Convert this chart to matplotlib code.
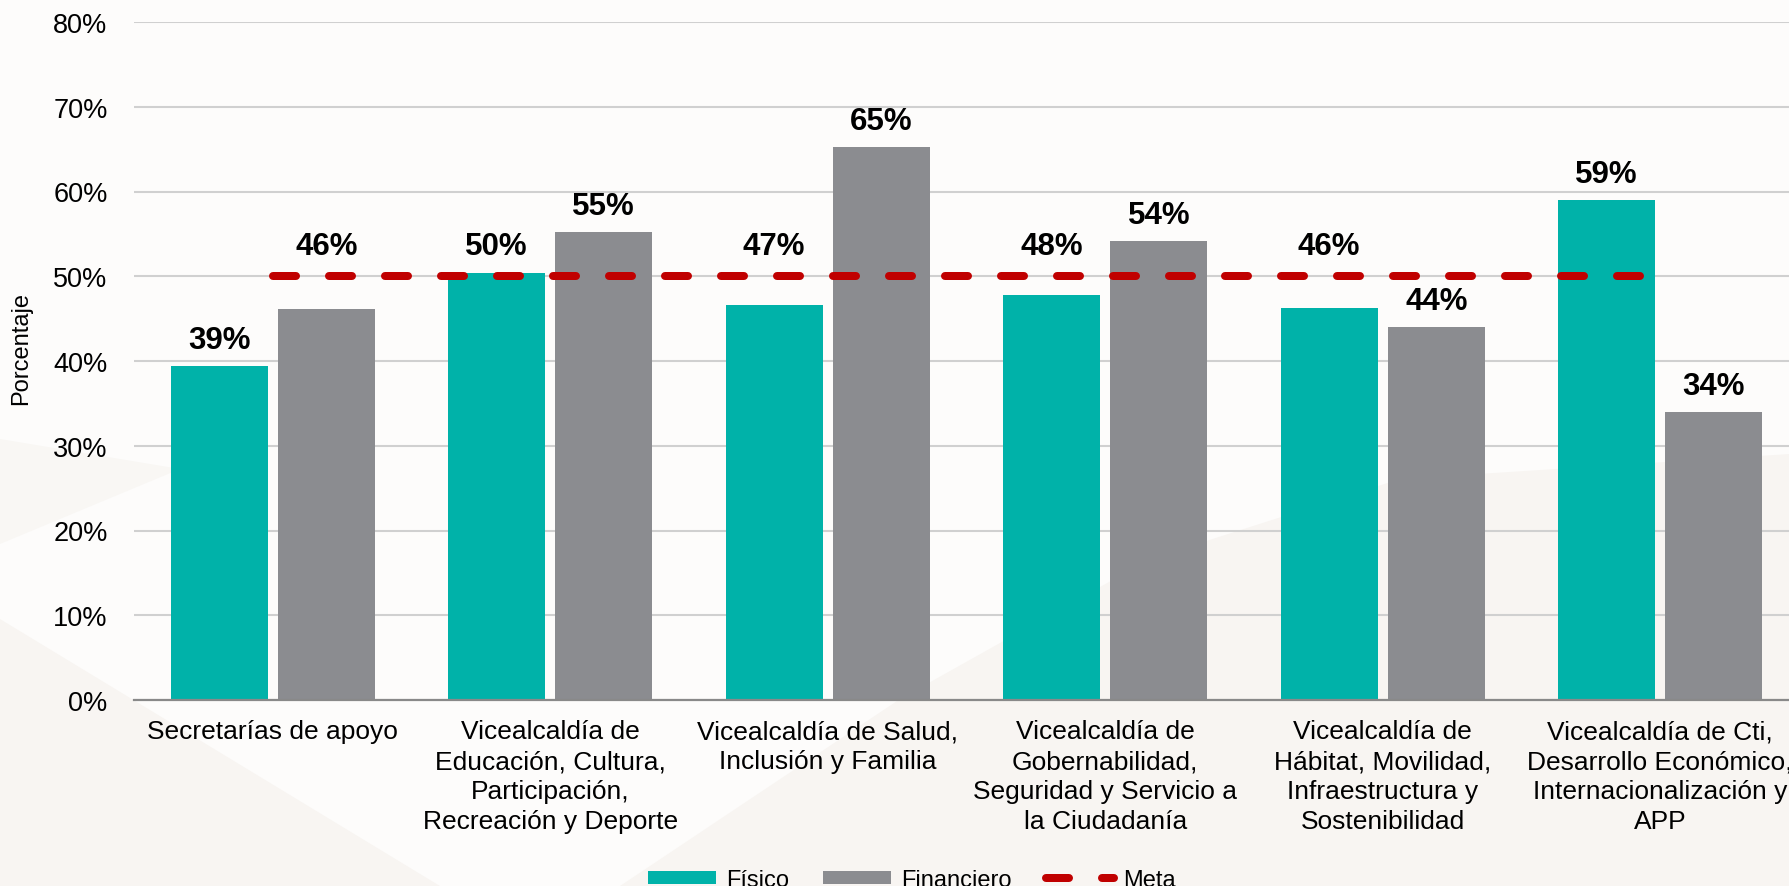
import numpy as np
import matplotlib; matplotlib.use("Agg")
import matplotlib.pyplot as plt
from matplotlib.patches import Polygon

categories = ["Secretarías de apoyo",
              "Vicealcaldía de\nEducación, Cultura,\nParticipación,\nRecreación y Deporte",
              "Vicealcaldía de Salud,\nInclusión y Familia",
              "Vicealcaldía de\nGobernabilidad,\nSeguridad y Servicio a\nla Ciudadanía",
              "Vicealcaldía de\nHábitat, Movilidad,\nInfraestructura y\nSostenibilidad",
              "Vicealcaldía de Cti,\nDesarrollo Económico,\nInternacionalización y\nAPP"]
fisico = [0.394, 0.504, 0.466, 0.478, 0.462, 0.590]
financiero = [0.461, 0.552, 0.652, 0.542, 0.440, 0.340]
meta = 0.50
yticks = [0, 0.1, 0.2, 0.3, 0.4, 0.5, 0.6, 0.7, 0.8]

TEAL = "#00B2A9"; GRAY = "#8B8C90"; RED = "#C00000"
plt.rcParams["font.family"] = ["Liberation Sans", "DejaVu Sans"]

W, H = 1790, 887
fig = plt.figure(figsize=(W/100, H/100), dpi=100, facecolor="#FDFCFB")

# faint background swooshes
bg = fig.add_axes([0, 0, 1, 1], zorder=-1)
bg.set_xlim(0, W); bg.set_ylim(H, 0); bg.axis("off")
bg.add_patch(Polygon([(620, 887), (900, 700), (1150, 560), (1400, 480), (1790, 455), (1790, 887)],
                     closed=True, fc="#F8F5F2", ec="none"))
bg.add_patch(Polygon([(0, 620), (440, 887), (0, 887)], closed=True, fc="#F8F5F2", ec="none"))
bg.add_patch(Polygon([(0, 440), (180, 470), (0, 545)], closed=True, fc="#F9F7F4", ec="none"))

ax = fig.add_axes([134/W, 1-701/H, 1-134/W, (701-23)/H])
ax.set_facecolor("none")
x = np.arange(len(categories))
off, bw = 0.193, 0.35
b1 = ax.bar(x-off, fisico, bw, color=TEAL, label="Físico", zorder=2)
b2 = ax.bar(x+off, financiero, bw, color=GRAY, label="Financiero", zorder=2)
mline, = ax.plot(x, [meta]*len(x), color=RED, lw=5.76, label="Meta", zorder=3,
                 dash_capstyle="round", solid_capstyle="round")
mline.set_dashes((2.875, 4.125))

# value labels; those that would sit on the meta line are lifted above it
for xs, vals in ((x-off, fisico), (x+off, financiero)):
    for xi, v in zip(xs, vals):
        base = 0.505 if meta-0.045 < v < 0.505 else v
        ax.annotate(f"{v*100:.0f}%", (xi, base), xytext=(0, 13), textcoords="offset points",
                    ha="center", va="baseline", fontsize=22.5, fontweight="bold", zorder=4)

ax.set_xlim(-0.5, (W-134)/277.5-0.5)
ax.set_ylim(0, 0.8)
ax.set_yticks(yticks)
ax.set_yticklabels([f"{t*100:.0f}%" for t in yticks])
ax.set_xticks(x)
ax.set_xticklabels(categories, fontsize=19, linespacing=1.3)
ax.tick_params(axis="y", length=0, pad=19, labelsize=19.5)
ax.tick_params(axis="x", length=0, pad=14)
ax.grid(axis="y", color="#D0D0D0", lw=1.5, zorder=0)
for s in ["top", "right", "left"]:
    ax.spines[s].set_visible(False)
ax.spines["bottom"].set_color("#898989"); ax.spines["bottom"].set_linewidth(1.6)
ax.spines["bottom"].set_zorder(3)
ax.set_ylabel("Porcentaje", fontsize=17)
ax.yaxis.set_label_coords(-0.0616, 0.52)

fig.legend(handles=[b1, b2, mline], loc="center", bbox_to_anchor=(0.5095, 6/H), ncol=3,
           frameon=False, fontsize=17, handlelength=2.9, handleheight=0.5,
           handletextpad=0.4, columnspacing=1.45)
fig.savefig("out.png", dpi=100, facecolor=fig.get_facecolor())
